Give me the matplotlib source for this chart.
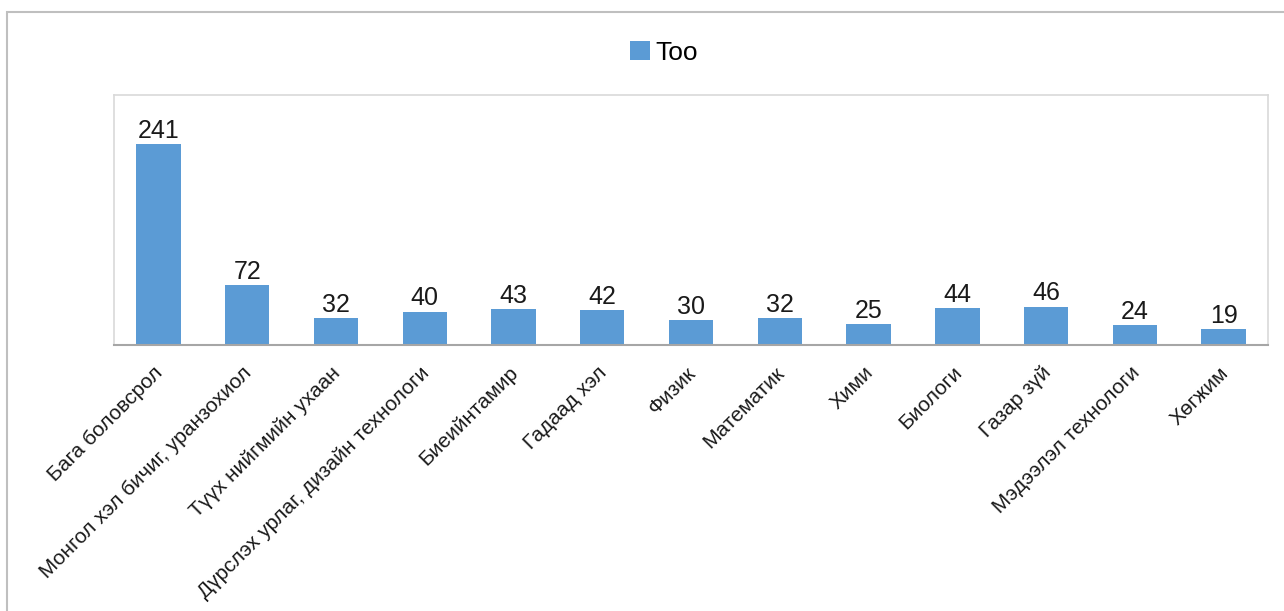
import matplotlib
matplotlib.use("Agg")
import matplotlib.pyplot as plt
from matplotlib.patches import Rectangle, Patch
from matplotlib.transforms import ScaledTranslation

categories = ["Бага боловсрол", "Монгол хэл бичиг, уранзохиол", "Түүх нийгмийн ухаан",
              "Дүрслэх урлаг, дизайн технологи", "Биеийнтамир", "Гадаад хэл", "Физик",
              "Математик", "Хими", "Биологи", "Газар зүй", "Мэдээлэл технологи", "Хөгжим"]
values = [241, 72, 32, 40, 43, 42, 30, 32, 25, 44, 46, 24, 19]
series_name = "Too"

plt.rcParams['font.family'] = ['Liberation Sans', 'DejaVu Sans']
W, H = 1284, 611
fig = plt.figure(figsize=(W/100, H/100), dpi=100)
ax = fig.add_axes([114/W, 1-345/H, (1268-114)/W, (345-95)/H])

color = '#5B9BD5'
x = list(range(len(categories)))
bars = ax.bar(x, values, width=0.5, color=color, label=series_name)
ax.set_xlim(-0.5, len(categories)-0.5)
ax.set_ylim(0, 300)
ax.set_yticks([])
ax.set_xticks(x)
ax.set_xticklabels(categories, rotation=45, ha='right', rotation_mode='anchor', fontsize=15, color='#1a1a1a')
ax.tick_params(axis='x', length=0, pad=13)
offset = ScaledTranslation(-5/100, 0, fig.dpi_scale_trans)
for lbl in ax.get_xticklabels():
    lbl.set_transform(lbl.get_transform() + offset)
for s in ['top', 'left', 'right']:
    ax.spines[s].set_color('#d9d9d9')
    ax.spines[s].set_linewidth(1.2)
ax.spines['bottom'].set_color('#a6a6a6')
ax.spines['bottom'].set_linewidth(1.5)

for xi, v in zip(x, values):
    ax.text(xi, v + 1.5, str(v), ha='center', va='bottom', fontsize=18, color='#1a1a1a')

leg = fig.legend(handles=[Patch(facecolor=color, label=series_name)], loc='center',
                 bbox_to_anchor=(664/W, 1-53/H), frameon=False, fontsize=19,
                 handlelength=0.75, handleheight=0.75, handletextpad=0.2)

fig.patches.append(Rectangle((7/W, -0.1), 1.2, 1.1 - 12/H, transform=fig.transFigure,
                             fill=False, edgecolor='#bfbfbf', linewidth=1.5))

fig.savefig('out.png', dpi=100)
